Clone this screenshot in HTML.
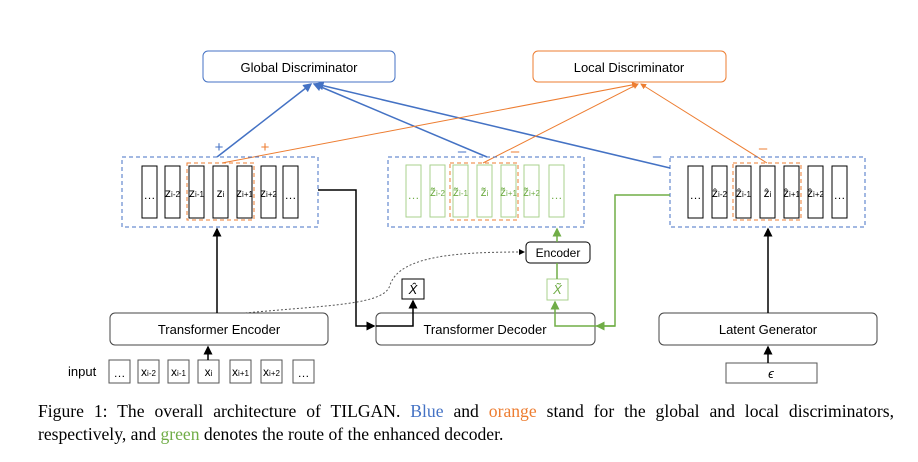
<!DOCTYPE html>
<html><head><meta charset="utf-8"><style>
body{margin:0;background:#fff;width:918px;height:462px;overflow:hidden}
svg text{font-family:"Liberation Sans",sans-serif}
.cap{position:absolute;left:38px;width:856px;font-family:"Liberation Serif",serif;font-size:17.6px;line-height:22px;color:#000;white-space:nowrap}
.l1{top:400px;text-align:justify;text-align-last:justify;white-space:normal}
.l2{top:423px}
</style></head><body>
<svg width="918" height="462" style="position:absolute;left:0;top:0">
<defs>
<marker id="ab" markerWidth="6" markerHeight="6" refX="5" refY="3" orient="auto"><path d="M0,0L6,3L0,6z" fill="#4472c4"/></marker>
<marker id="ao" markerWidth="6" markerHeight="6" refX="5" refY="3" orient="auto"><path d="M0,0L6,3L0,6z" fill="#ed7d31"/></marker>
<marker id="ak" markerWidth="6" markerHeight="6" refX="5" refY="3" orient="auto"><path d="M0,0L6,3L0,6z" fill="#000"/></marker>
<marker id="ag" markerWidth="6" markerHeight="6" refX="5" refY="3" orient="auto"><path d="M0,0L6,3L0,6z" fill="#70ad47"/></marker>
</defs>
<rect x="203" y="51" width="192" height="31" rx="5" fill="#fff" stroke="#4472c4"/>
<text x="299" y="72" font-size="13" text-anchor="middle">Global Discriminator</text>
<rect x="533" y="51" width="193" height="31" rx="5" fill="#fff" stroke="#ed7d31"/>
<text x="629" y="72" font-size="13" text-anchor="middle">Local Discriminator</text>

<g stroke="#4472c4" stroke-width="1.5" fill="none">
<line x1="217" y1="157" x2="311" y2="84" marker-end="url(#ab)"/>
<line x1="487" y1="157" x2="314" y2="84" marker-end="url(#ab)"/>
<line x1="670" y1="168" x2="316" y2="84" marker-end="url(#ab)"/>
</g>
<g stroke="#ed7d31" stroke-width="1" fill="none">
<line x1="222" y1="163" x2="637" y2="84" marker-end="url(#ao)"/>
<line x1="483" y1="163" x2="638" y2="84" marker-end="url(#ao)"/>
<line x1="767" y1="163" x2="641" y2="84" marker-end="url(#ao)"/>
</g>
<g font-size="15" text-anchor="middle">
<text x="219" y="152" fill="#4472c4">+</text>
<text x="265" y="152" fill="#ed7d31">+</text>
<text x="462" y="156" fill="#4472c4">–</text>
<text x="515" y="156" fill="#ed7d31">–</text>
<text x="657" y="161" fill="#4472c4">–</text>
<text x="763" y="153" fill="#ed7d31">–</text>
</g>

<g fill="none" stroke="#4472c4" stroke-dasharray="4,3">
<rect x="122" y="157" width="196" height="70"/>
<rect x="388" y="157" width="196" height="70"/>
<rect x="670" y="157" width="195" height="70"/>
</g>
<g fill="#fff" stroke="#000">
<rect x="142" y="166" width="15" height="52"/><rect x="165" y="166" width="15" height="52"/>
<rect x="189" y="166" width="15" height="52"/><rect x="213" y="166" width="15" height="52"/>
<rect x="237" y="166" width="15" height="52"/><rect x="261" y="166" width="15" height="52"/>
<rect x="283" y="166" width="15" height="52"/>
<rect x="688" y="166" width="15" height="52"/><rect x="712" y="166" width="15" height="52"/>
<rect x="736" y="166" width="15" height="52"/><rect x="760" y="166" width="15" height="52"/>
<rect x="784" y="166" width="15" height="52"/><rect x="808" y="166" width="15" height="52"/>
<rect x="832" y="166" width="15" height="52"/>
</g>
<g fill="#fff" stroke="#a9d18e">
<rect x="406" y="165" width="15" height="52"/><rect x="430" y="165" width="15" height="52"/>
<rect x="453" y="165" width="15" height="52"/><rect x="477" y="165" width="15" height="52"/>
<rect x="501" y="165" width="15" height="52"/><rect x="524" y="165" width="15" height="52"/>
<rect x="549" y="165" width="15" height="52"/>
</g>
<g fill="none" stroke="#ed7d31" stroke-dasharray="4,3">
<rect x="187" y="163" width="67" height="57"/>
<rect x="450" y="163" width="68" height="57"/>
<rect x="733" y="163" width="68" height="57"/>
</g>
<g font-size="12" text-anchor="middle">
<text x="149.5" y="199">…</text><text x="172.5" y="197">z<tspan font-size="8">i-2</tspan></text>
<text x="196.5" y="197">z<tspan font-size="8">i-1</tspan></text><text x="220.5" y="197">z<tspan font-size="8">i</tspan></text>
<text x="244.5" y="197">z<tspan font-size="8">i+1</tspan></text><text x="268.5" y="197">z<tspan font-size="8">i+2</tspan></text>
<text x="290.5" y="199">…</text>
<text x="695.5" y="199">…</text><text x="719.5" y="197">ẑ<tspan font-size="8">i-2</tspan></text>
<text x="743.5" y="197">ẑ<tspan font-size="8">i-1</tspan></text><text x="767.5" y="197">ẑ<tspan font-size="8">i</tspan></text>
<text x="791.5" y="197">ẑ<tspan font-size="8">i+1</tspan></text><text x="815.5" y="197">ẑ<tspan font-size="8">i+2</tspan></text>
<text x="839.5" y="199">…</text>
<g fill="#70ad47">
<text x="413.5" y="199">…</text><text x="437.5" y="196">z̃<tspan font-size="8">i-2</tspan></text>
<text x="460.5" y="196">z̃<tspan font-size="8">i-1</tspan></text><text x="484.5" y="196">z̃<tspan font-size="8">i</tspan></text>
<text x="508.5" y="196">z̃<tspan font-size="8">i+1</tspan></text><text x="531.5" y="196">z̃<tspan font-size="8">i+2</tspan></text>
<text x="556.5" y="199">…</text></g>
</g>

<rect x="110" y="313" width="218" height="32" rx="5" fill="#fff" stroke="#444"/>
<text x="219" y="334" font-size="13" text-anchor="middle">Transformer Encoder</text>
<rect x="376" y="313" width="219" height="32" rx="5" fill="#fff" stroke="#444"/>
<text x="485" y="334" font-size="13" text-anchor="middle">Transformer Decoder</text>
<rect x="659" y="313" width="218" height="32" rx="5" fill="#fff" stroke="#444"/>
<text x="768" y="334" font-size="13" text-anchor="middle">Latent Generator</text>
<rect x="526" y="242" width="64" height="21" rx="4" fill="#fff" stroke="#000"/>
<text x="558" y="257" font-size="12" text-anchor="middle">Encoder</text>
<rect x="402" y="279" width="22" height="20" fill="#fff" stroke="#000"/>
<text x="413" y="294" font-size="13" font-style="italic" font-family="Liberation Serif" text-anchor="middle">X̂</text>
<rect x="547" y="279" width="21" height="21" fill="#fff" stroke="#a9d18e"/>
<text x="557.5" y="294" font-size="13" font-style="italic" font-family="Liberation Serif" fill="#70ad47" text-anchor="middle">X̃</text>

<text x="68" y="376" font-size="13">input</text>
<g fill="#fff" stroke="#555">
<rect x="109" y="360" width="21" height="23"/><rect x="138" y="360" width="21" height="23"/>
<rect x="168" y="360" width="21" height="23"/><rect x="198" y="360" width="21" height="23"/>
<rect x="230" y="360" width="21" height="23"/><rect x="261" y="360" width="21" height="23"/>
<rect x="293" y="360" width="21" height="23"/>
<rect x="726" y="363" width="91" height="20"/>
</g>
<g font-size="12" text-anchor="middle">
<text x="119.5" y="377">…</text><text x="148.5" y="376">x<tspan font-size="8">i-2</tspan></text>
<text x="178.5" y="376">x<tspan font-size="8">i-1</tspan></text><text x="208.5" y="376">x<tspan font-size="8">i</tspan></text>
<text x="240.5" y="376">x<tspan font-size="8">i+1</tspan></text><text x="271.5" y="376">x<tspan font-size="8">i+2</tspan></text>
<text x="303.5" y="377">…</text>
<text x="771" y="378" font-style="italic" font-family="Liberation Serif" font-size="13">ϵ</text>
</g>

<g stroke="#000" stroke-width="1.5" fill="none">
<line x1="217" y1="313" x2="217" y2="229" marker-end="url(#ak)"/>
<line x1="208" y1="360" x2="208" y2="347" marker-end="url(#ak)"/>
<line x1="768" y1="313" x2="768" y2="229" marker-end="url(#ak)"/>
<line x1="768" y1="363" x2="768" y2="347" marker-end="url(#ak)"/>
<polyline points="318,190 356,190 356,326 374,326" marker-end="url(#ak)"/>
<polyline points="376,326 413,326 413,301" marker-end="url(#ak)"/>
</g>
<g stroke="#70ad47" stroke-width="1.5" fill="none">
<polyline points="670,195 615,195 615,326 597,326" marker-end="url(#ag)"/>
<polyline points="615,326 555,326 555,302" marker-end="url(#ag)"/>
<line x1="557" y1="279" x2="557" y2="263"/>
<line x1="557" y1="242" x2="557" y2="229" marker-end="url(#ag)"/>
</g>
<path d="M245,313 C330,305 385,305 390,285 C400,255 460,252 524,252" fill="none" stroke="#555" stroke-dasharray="2,2" marker-end="url(#ak)"/>
</svg>
<div class="cap l1">Figure 1: The overall architecture of TILGAN. <span style="color:#4472c4">Blue</span> and <span style="color:#ed7d31">orange</span> stand for the global and local discriminators,</div>
<div class="cap l2">respectively, and <span style="color:#70ad47">green</span> denotes the route of the enhanced decoder.</div>
</body></html>
